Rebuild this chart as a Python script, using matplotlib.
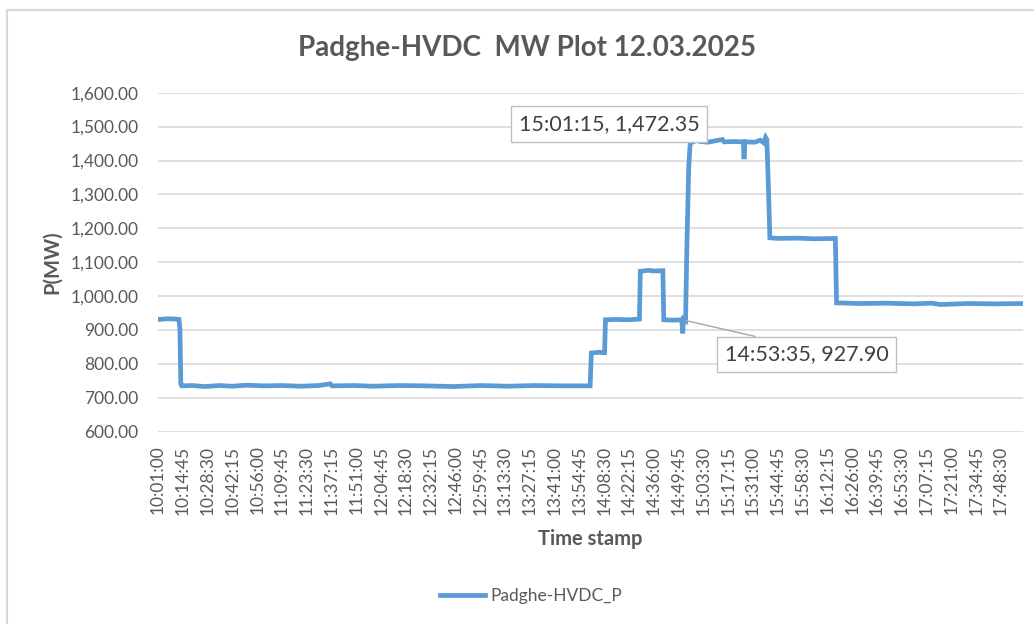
import matplotlib
matplotlib.use("Agg")
import matplotlib.pyplot as plt
from matplotlib.patches import Rectangle
import numpy as np

plt.rcParams['font.family'] = ['Lato', 'DejaVu Sans']

# breakpoints of the Padghe-HVDC_P trace
times = ["10:01:00", "10:06:00", "10:11:00", "10:12:40", "10:13:10", "10:13:40", "10:14:10",
         "10:20:00", "10:27:00", "10:35:00", "10:42:00", "10:50:00", "11:00:00", "11:10:00",
         "11:20:00", "11:30:00", "11:36:30", "11:37:30", "11:50:00", "12:00:00", "12:15:00",
         "12:30:00", "12:45:00", "13:00:00", "13:15:00", "13:30:00", "13:45:00", "14:00:40",
         "14:01:20", "14:05:00", "14:08:40",
         "14:09:10", "14:15:00", "14:22:00", "14:28:00",
         "14:28:30", "14:33:00", "14:36:00", "14:41:00",
         "14:41:30", "14:47:00", "14:51:30", "14:52:00", "14:52:30", "14:53:35",
         "14:54:20", "14:55:20", "14:56:10",
         "14:58:00", "15:01:15", "15:01:45", "15:06:00", "15:10:00", "15:14:00", "15:15:00",
         "15:20:00", "15:25:40", "15:26:00", "15:26:30", "15:32:00", "15:35:00", "15:37:00",
         "15:38:00", "15:38:40",
         "15:39:40", "15:40:20", "15:45:00", "15:55:00", "16:05:00", "16:16:40",
         "16:17:20", "16:30:00", "16:45:00", "17:00:00", "17:10:00", "17:15:00", "17:30:00",
         "17:45:00", "18:00:45"]
power = [931, 933, 932, 931, 900, 740, 735,
         736, 733, 736, 734, 737, 735, 736,
         734, 736, 741, 735, 736, 734, 736,
         735, 733, 736, 734, 736, 735, 735,
         832, 834, 833,
         930, 931, 930, 932,
         1073, 1076, 1074, 1075,
         930, 929, 930, 890, 932, 927.90,
         1150, 1380, 1452,
         1455, 1472.35, 1456, 1454, 1458, 1462, 1455,
         1456, 1455, 1404, 1455, 1454, 1460, 1452,
         1468, 1462,
         1300, 1172, 1170, 1171, 1169, 1170,
         980, 978, 979, 977, 979, 975, 978,
         977, 978]

tick_labels = ["10:01:00", "10:14:45", "10:28:30", "10:42:15", "10:56:00", "11:09:45",
               "11:23:30", "11:37:15", "11:51:00", "12:04:45", "12:18:30", "12:32:15",
               "12:46:00", "12:59:45", "13:13:30", "13:27:15", "13:41:00", "13:54:45",
               "14:08:30", "14:22:15", "14:36:00", "14:49:45", "15:03:30", "15:17:15",
               "15:31:00", "15:44:45", "15:58:30", "16:12:15", "16:26:00", "16:39:45",
               "16:53:30", "17:07:15", "17:21:00", "17:34:45", "17:48:30"]

callouts = [("15:01:15", 1472.35, "15:01:15, 1,472.35"),
            ("14:53:35", 927.90, "14:53:35, 927.90")]


def to_sec(s):
    h, m, sec = [int(v) for v in s.split(":")]
    return h * 3600 + m * 60 + sec


t0 = to_sec(times[0])
x = np.array([to_sec(t) - t0 for t in times])
y = np.array(power)

grey = "#595959"
blue = "#5B9BD5"

fig = plt.figure(figsize=(10.34, 6.24), dpi=100)
fig.patches.append(Rectangle((7 / 1034, -0.2), 2, 1.2 - 10 / 624, transform=fig.transFigure,
                             fill=False, edgecolor="#D9D9D9", linewidth=1.5))
ax = fig.add_axes([0.1528, 0.3083, 0.8366, 0.5431])

ax.plot(x, y, color=blue, linewidth=3.4, solid_joinstyle="miter")

ax.set_xlim(0, x[-1])
ax.set_ylim(600, 1600)
ax.set_yticks(np.arange(600, 1601, 100))
ax.yaxis.set_major_formatter(plt.FuncFormatter(lambda v, p: f"{v:,.2f}"))
ax.set_xticks([to_sec(t) - t0 for t in tick_labels])
ax.set_xticklabels(tick_labels, rotation=90)
ax.grid(axis="y", color="#D9D9D9", linewidth=1.2)
ax.set_axisbelow(True)
for side in ["top", "right", "left", "bottom"]:
    ax.spines[side].set_visible(False)
ax.tick_params(axis="both", length=0, labelsize=12.5, labelcolor=grey)
ax.tick_params(axis="y", pad=14)
ax.tick_params(axis="x", pad=10)

ax.set_ylabel("P(MW)", fontsize=14.5, fontweight="bold", color=grey, labelpad=6)
ax.set_xlabel("Time stamp", fontsize=14.5, fontweight="bold", color=grey, labelpad=10)
fig.text(527 / 1034, 1 - 48 / 624, "Padghe-HVDC  MW Plot 12.03.2025", ha="center", va="center",
         fontsize=20, fontweight="bold", color=grey)

# data callouts
offsets = [(-90, 12), (121, -34)]
rel = [(0.5, 0.5), (0.4, 1.0)]
for (ts, val, txt), off, rp in zip(callouts, offsets, rel):
    ax.annotate(txt, xy=(to_sec(ts) - t0, val), xytext=off, textcoords="offset pixels",
                ha="center", va="center", fontsize=15.5, color="#404040",
                bbox=dict(boxstyle="square,pad=0.35", facecolor="white", edgecolor="#BFBFBF", linewidth=1),
                arrowprops=dict(arrowstyle="-", color="#A6A6A6", linewidth=1, relpos=rp,
                                shrinkA=0, shrinkB=0) if rp != (0.5, 0.5) else None)

# legend below axis title
fig.legend(handles=ax.get_lines(), labels=["Padghe-HVDC_P"], loc="center",
           bbox_to_anchor=(531 / 1034, 1 - 596 / 624), frameon=False, fontsize=12.5,
           labelcolor=grey, handlelength=2.6, handletextpad=0.3)

fig.savefig("out.png", dpi=100)
